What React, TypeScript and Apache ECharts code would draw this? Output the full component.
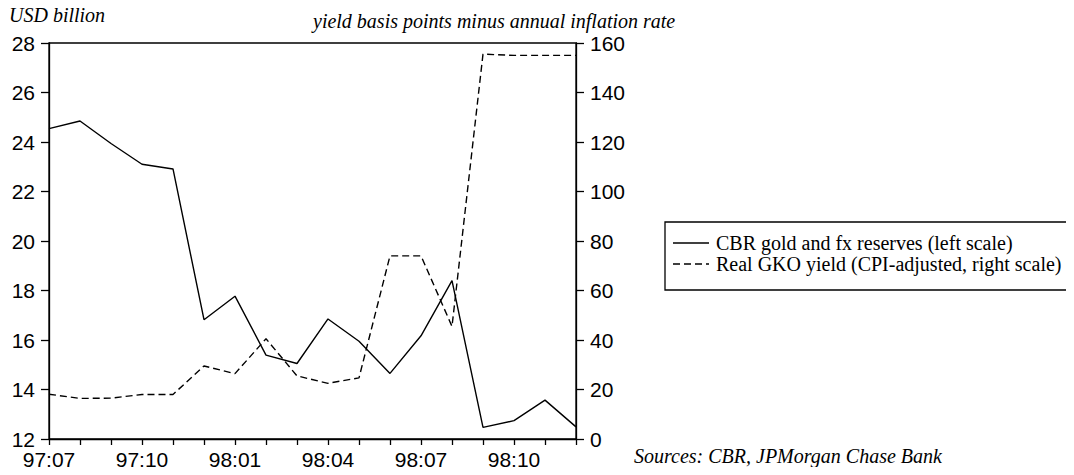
import React, { useEffect, useRef } from "react";
import * as echarts from "echarts";

const months = [
  "97:07", "97:08", "97:09", "97:10", "97:11", "97:12",
  "98:01", "98:02", "98:03", "98:04", "98:05", "98:06",
  "98:07", "98:08", "98:09", "98:10", "98:11", "98:12",
];
const reserves = [
  24.54, 24.85, 23.94, 23.1, 22.91, 16.82,
  17.77, 15.39, 15.05, 16.85, 15.95, 14.65,
  16.17, 18.4, 12.47, 12.74, 13.57, 12.49,
];
const realYield = [
  18.1, 16.4, 16.5, 18, 18, 29.5,
  26.4, 40.5, 25.5, 22.5, 24.7, 74,
  74, 45.5, 155.5, 155, 155, 155,
];
const leftTicks = { min: 12, max: 28, interval: 2 };
const rightTicks = { min: 0, max: 160, interval: 20 };
const seriesNames = [
  "CBR gold and fx reserves (left scale)",
  "Real GKO yield (CPI-adjusted, right scale)",
];
const leftUnit = "USD billion";
const rightUnit = "yield basis points minus annual inflation rate";
const sourceNote = "Sources: CBR, JPMorgan Chase Bank";

const SERIF = "'Liberation Serif', 'Times New Roman', serif";
const SANS = "'Liberation Sans', Arial, sans-serif";
const DASH = [7, 4];

export default function App() {
  const ref = useRef<HTMLDivElement>(null);
  useEffect(() => {
    if (!ref.current) return;
    const chart = echarts.init(ref.current, undefined, { renderer: "svg" });
    const axisCommon = {
      axisLine: { show: true, lineStyle: { color: "#000", width: 1.3 } },
      axisTick: { show: true, length: 8, inside: false, lineStyle: { color: "#000", width: 1.3 } },
      axisLabel: { color: "#000", fontFamily: SANS, fontSize: 21, margin: 14 },
      splitLine: { show: false },
    };
    const lgX = 665, lgY = 222, lgW = 402, lgH = 68;
    const row1 = lgY + 21, row2 = lgY + 42;
    chart.setOption({
      animation: false,
      backgroundColor: "#fff",
      grid: { left: 49, right: 498, top: 43, bottom: 36, show: true, borderColor: "#000", borderWidth: 1.3, containLabel: false },
      xAxis: {
        type: "category",
        data: months,
        boundaryGap: false,
        axisLine: { show: true, lineStyle: { color: "#000", width: 1.3 } },
        axisTick: { show: true, interval: 0, length: 6, lineStyle: { color: "#000", width: 1.3 } },
        axisLabel: {
          color: "#000", fontFamily: SANS, fontSize: 21, margin: 10,
          interval: (i: number) => i % 3 === 0 && i < 17,
        },
        splitLine: { show: false },
      },
      yAxis: [
        { type: "value", position: "left", ...leftTicks, ...axisCommon },
        { type: "value", position: "right", ...rightTicks, ...axisCommon },
      ],
      series: [
        {
          name: seriesNames[0],
          type: "line",
          yAxisIndex: 0,
          data: reserves,
          symbol: "none",
          lineStyle: { color: "#000", width: 1.4, type: "solid" },
          itemStyle: { color: "#000" },
        },
        {
          name: seriesNames[1],
          type: "line",
          yAxisIndex: 1,
          data: realYield,
          symbol: "none",
          lineStyle: { color: "#000", width: 1.4, type: DASH },
          itemStyle: { color: "#000" },
        },
      ],
      graphic: [
        {
          type: "text", left: 9, top: 5,
          style: { text: leftUnit, font: `italic 20px ${SERIF}`, fill: "#000" },
        },
        {
          type: "text", left: 313, top: 11,
          style: { text: rightUnit, font: `italic 20px ${SERIF}`, fill: "#000" },
        },
        {
          type: "text", left: 634, top: 446,
          style: { text: sourceNote, font: `italic 20px ${SERIF}`, fill: "#000" },
        },
        {
          type: "rect",
          shape: { x: lgX, y: lgY, width: lgW, height: lgH },
          style: { fill: "#fff", stroke: "#000", lineWidth: 1.3 },
        },
        {
          type: "line",
          shape: { x1: lgX + 8, y1: row1, x2: lgX + 44, y2: row1 },
          style: { stroke: "#000", lineWidth: 1.4 },
        },
        {
          type: "line",
          shape: { x1: lgX + 8, y1: row2, x2: lgX + 44, y2: row2 },
          style: { stroke: "#000", lineWidth: 1.4, lineDash: DASH },
        },
        {
          type: "text", x: lgX + 51, y: row1,
          style: { text: seriesNames[0], font: `20px ${SERIF}`, fill: "#000", verticalAlign: "middle" },
        },
        {
          type: "text", x: lgX + 51, y: row2,
          style: { text: seriesNames[1], font: `20px ${SERIF}`, fill: "#000", verticalAlign: "middle" },
        },
      ],
    });
    return () => chart.dispose();
  }, []);
  return <div ref={ref} style={{ width: 1074, height: 475, margin: -8 }} />;
}
